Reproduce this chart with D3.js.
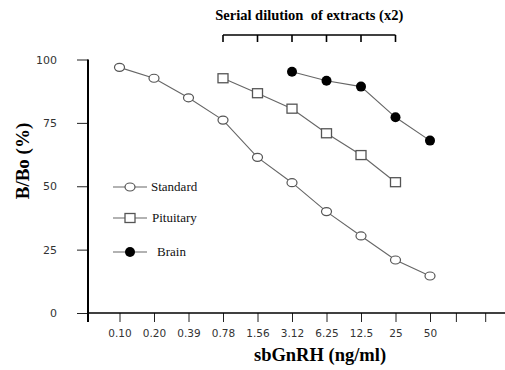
<!DOCTYPE html>
<html>
<head>
<meta charset="utf-8">
<script src="https://cdn.jsdelivr.net/npm/d3@7"></script>
<style>
  html, body { margin: 0; padding: 0; background: #fff; }
  svg { display: block; }
  text { white-space: pre; }
  .serif { font-family: "Liberation Serif", "Times New Roman", serif; }
</style>
</head>
<body>
<svg id="chart" width="505" height="370"></svg>
<script>
// ---- data ----
const categories = ["0.10", "0.20", "0.39", "0.78", "1.56", "3.12", "6.25", "12.5", "25", "50"];
const standardValues = [96.9, 92.6, 84.9, 76.1, 61.4, 51.4, 40.0, 30.4, 20.9, 14.6];
const pituitaryCats = ["0.78", "1.56", "3.12", "6.25", "12.5", "25"];
const pituitaryValues = [92.6, 86.7, 80.6, 70.9, 62.3, 51.6];
const brainCats = ["3.12", "6.25", "12.5", "25", "50"];
const brainValues = [95.2, 91.6, 89.3, 77.2, 68.0];
const yTicks = [0, 25, 50, 75, 100];
const extraXTicks = [9.75, 10.6];     // unlabeled ticks past the last category (index units)
const dilutionCats = ["0.78", "1.56", "3.12", "6.25", "12.5", "25"];
const legendNames = ["Standard", "Pituitary", "Brain"];

const svg = d3.select("#chart");

const x = d3.scaleLinear().domain([0, categories.length - 1]).range([119.5, 430]);
const xc = c => x(categories.indexOf(c));
const y = d3.scaleLinear().domain([0, 100]).range([313, 59.5]);

// ---- axes ----
const yAxis = svg.append("g")
  .attr("transform", "translate(88,0)")
  .call(d3.axisLeft(y).tickValues(yTicks).tickSize(11).tickPadding(20));
yAxis.select(".domain").remove();
yAxis.selectAll(".tick line").attr("stroke", "#222").attr("stroke-width", 1);
yAxis.selectAll(".tick text")
  .attr("font-family", "DejaVu Sans").attr("font-size", 11).attr("fill", "#333");

const xAxis = svg.append("g")
  .attr("transform", "translate(0,313)")
  .call(d3.axisBottom(x)
    .tickValues(d3.range(categories.length).concat(extraXTicks))
    .tickFormat(i => Number.isInteger(i) ? categories[i] : "")
    .tickSize(9).tickPadding(8));
xAxis.select(".domain").remove();
xAxis.selectAll(".tick line").attr("stroke", "#222").attr("stroke-width", 1);
xAxis.selectAll(".tick text")
  .attr("font-family", "DejaVu Sans").attr("font-size", 10.5).attr("fill", "#333");

// axis lines
svg.append("line").attr("x1", 88).attr("x2", 88).attr("y1", y(100)).attr("y2", 322)
  .attr("stroke", "#000").attr("stroke-width", 2);
svg.append("line").attr("x1", 87).attr("x2", 505).attr("y1", 313).attr("y2", 313)
  .attr("stroke", "#000").attr("stroke-width", 1.6);

// axis titles
svg.append("text").attr("class", "serif")
  .attr("x", 320).attr("y", 361).attr("text-anchor", "middle")
  .attr("font-weight", "bold").attr("font-size", 18.5)
  .text("sbGnRH (ng/ml)");
svg.append("text").attr("class", "serif")
  .attr("transform", "translate(29,161) rotate(-90)").attr("text-anchor", "middle")
  .attr("font-weight", "bold").attr("font-size", 19)
  .text("B/Bo (%)");

// ---- dilution bracket ----
const bx0 = xc(dilutionCats[0]), bx1 = xc(dilutionCats[dilutionCats.length - 1]);
svg.append("line").attr("x1", bx0).attr("x2", bx1).attr("y1", 35).attr("y2", 35)
  .attr("stroke", "#000").attr("stroke-width", 1.6);
svg.selectAll(".brk").data(dilutionCats).enter().append("line")
  .attr("x1", d => xc(d)).attr("x2", d => xc(d)).attr("y1", 35).attr("y2", 42)
  .attr("stroke", "#000").attr("stroke-width", 1.6);
svg.append("text").attr("class", "serif")
  .attr("x", (bx0 + bx1) / 2).attr("y", 20).attr("text-anchor", "middle")
  .attr("font-weight", "bold").attr("font-size", 14.5)
  .text("Serial dilution  of extracts (x2)");

// ---- series ----
const lineColor = "#666";
const line = d3.line().x(d => xc(d.c)).y(d => y(d.v));
const mk = (cats, vals) => cats.map((c, i) => ({ c, v: vals[i] }));
const sStd = mk(categories, standardValues);
const sPit = mk(pituitaryCats, pituitaryValues);
const sBrn = mk(brainCats, brainValues);

[sStd, sPit, sBrn].forEach(s => {
  svg.append("path").datum(s).attr("d", line)
    .attr("fill", "none").attr("stroke", lineColor).attr("stroke-width", 1.1);
});

function drawCircle(g, cx, cy) {
  g.append("ellipse").attr("cx", cx).attr("cy", cy).attr("rx", 5).attr("ry", 4)
    .attr("fill", "#fff").attr("stroke", "#555").attr("stroke-width", 1.2);
}
function drawSquare(g, cx, cy) {
  g.append("rect").attr("x", cx - 5).attr("y", cy - 4.5).attr("width", 10).attr("height", 9)
    .attr("fill", "#fff").attr("stroke", "#555").attr("stroke-width", 1.3);
}
function drawDot(g, cx, cy) {
  g.append("circle").attr("cx", cx).attr("cy", cy).attr("r", 5)
    .attr("fill", "#000");
}

const gm = svg.append("g");
sStd.forEach(d => drawCircle(gm, xc(d.c), y(d.v)));
sPit.forEach(d => drawSquare(gm, xc(d.c), y(d.v)));
sBrn.forEach(d => drawDot(gm, xc(d.c), y(d.v)));

// ---- legend ----
const legendRows = [187, 218, 252];
const legendTextX = [151, 152, 157];
const drawers = [drawCircle, drawSquare, drawDot];
legendNames.forEach((name, i) => {
  const ly = legendRows[i];
  svg.append("line").attr("x1", 113).attr("x2", 147).attr("y1", ly).attr("y2", ly)
    .attr("stroke", lineColor).attr("stroke-width", 1.1);
  drawers[i](svg, 130, ly);
  svg.append("text").attr("class", "serif")
    .attr("x", legendTextX[i]).attr("y", ly).attr("dy", "0.32em")
    .attr("font-size", 13).attr("fill", "#111")
    .text(name);
});
</script>
</body>
</html>
